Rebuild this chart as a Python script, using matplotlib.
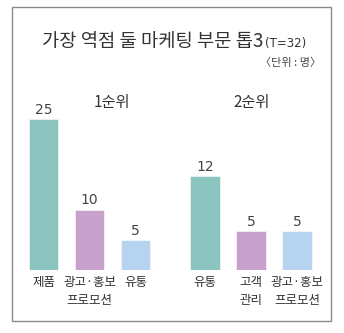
import matplotlib.pyplot as plt
from matplotlib.patches import Rectangle

plt.rcParams['font.family'] = ['Noto Sans CJK KR', 'DejaVu Sans']

# 데이터
labels_1 = ["제품", "광고·홍보\n프로모션", "유통"]
values_1 = [25, 10, 5]
labels_2 = ["유통", "고객\n관리", "광고·홍보\n프로모션"]
values_2 = [12, 5, 5]
colors = ["#8cc4bf", "#c7a1cb", "#b6d4ef"]

W, H = 344, 333
fig = plt.figure(figsize=(W / 100, H / 100), dpi=100)

# 바깥 테두리
fig.patches.append(Rectangle((12 / W, 1 - 321 / H), (331 - 12) / W, (321 - 7) / H,
                             transform=fig.transFigure, fill=False,
                             edgecolor="#8a8a8a", linewidth=1.0))

fig.text(263 / W, 1 - 42 / H, "가장 역점 둘 마케팅 부문 톱3", fontsize=13.5,
         ha="right", va="center", color="#333333")
fig.text(265 / W, 1 - 43 / H, "(T=32)", fontsize=8.5, ha="left", va="center",
         color="#333333", fontfamily="Liberation Sans Narrow")
fig.text(321 / W, 1 - 63 / H, "〈단위 : 명〉", fontsize=8, ha="right", va="center",
         color="#444444")

base = 270
top = 100


def draw_group(x0, vals, labs, ymax, title, tx):
    ax = fig.add_axes([x0 / W, 1 - base / H, 138 / W, (base - top) / H])
    xs = range(len(vals))
    ax.bar(xs, vals, width=0.64, color=colors, edgecolor="white", linewidth=0.4)
    for x, v in zip(xs, vals):
        ax.text(x, v + ymax * 0.012, str(v), ha="center", va="bottom",
                fontsize=10, color="#444444", fontfamily="Liberation Sans Narrow")
    ax.set_xlim(-0.5, 2.5)
    ax.set_ylim(0, ymax)
    ax.set_xticks(list(xs))
    ax.set_xticklabels(labs, fontsize=9, color="#333333", linespacing=1.55,
                       va="top")
    ax.tick_params(axis="x", length=0, pad=4)
    ax.set_yticks([])
    for s in ax.spines.values():
        s.set_visible(False)
    ax.patch.set_alpha(0)
    fig.text(tx / W, 1 - 103 / H, title, fontsize=11, color="#333333",
             ha="center", va="center")
    return ax


ax1 = draw_group(20.5, values_1, labels_1, 170 / 6.05, "1순위", 112)
ax2 = draw_group(182, values_2, labels_2, 170 / 7.8, "2순위", 252)

fig.savefig("out.png", dpi=100, facecolor="white")
